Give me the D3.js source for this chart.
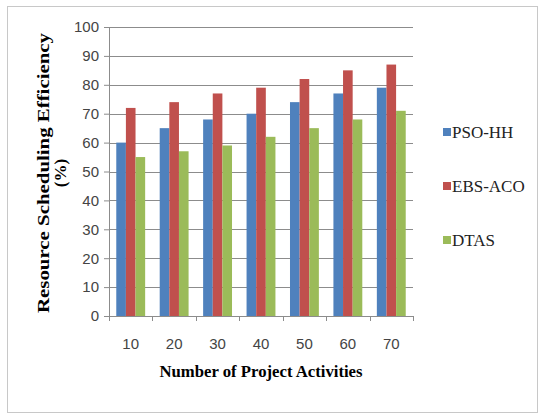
<!DOCTYPE html>
<html>
<head>
<meta charset="utf-8">
<script src="https://cdn.jsdelivr.net/npm/d3@7"></script>
<style>
body { margin: 0; background: #fff; }
svg { display: block; }
</style>
</head>
<body>
<svg id="chart" width="543" height="419"></svg>
<script>
var categories = ['10', '20', '30', '40', '50', '60', '70'];
var seriesNames = ['PSO-HH', 'EBS-ACO', 'DTAS'];
var psoHH = [60, 65, 68, 70, 74, 77, 79];
var ebsACO = [72, 74, 77, 79, 82, 85, 87];
var dtas = [55, 57, 59, 62, 65, 68, 71];
var yTicks = [0, 10, 20, 30, 40, 50, 60, 70, 80, 90, 100];
var colors = ['#4f81bd', '#c0504d', '#9bbb59'];

var svg = d3.select('#chart');
var margin = {left: 109, right: 130, top: 27, bottom: 103};
var w = 543 - margin.left - margin.right;
var h = 419 - margin.top - margin.bottom;

var series = [psoHH, ebsACO, dtas];

// frame
svg.append('rect')
	.attr('x', 7.5).attr('y', 6.5)
	.attr('width', 530).attr('height', 406)
	.attr('fill', '#fff').attr('stroke', '#c8c8c8');

var g = svg.append('g').attr('transform', 'translate(' + margin.left + ',' + margin.top + ')');

var x = d3.scaleBand().domain(categories).range([0, w]).paddingInner(0.335).paddingOuter(0.1675);
var xs = d3.scaleBand().domain(seriesNames).range([0, x.bandwidth()]);
var y = d3.scaleLinear().domain([0, 100]).range([h, 0]);

// gridlines
g.selectAll('.grid').data(yTicks.slice(1)).enter()
	.append('line')
	.attr('x1', 0).attr('x2', w)
	.attr('y1', function(d) { return Math.round(y(d)) + 0.5; })
	.attr('y2', function(d) { return Math.round(y(d)) + 0.5; })
	.attr('stroke', '#8c8c8c').attr('stroke-width', 1);

// bars
var groups = g.selectAll('.grp').data(categories).enter()
	.append('g')
	.attr('transform', function(d) { return 'translate(' + x(d) + ',0)'; });

groups.selectAll('rect')
	.data(function(d, i) {
		return seriesNames.map(function(s, j) { return {s: s, v: series[j][i], c: colors[j]}; });
	})
	.enter()
	.append('rect')
	.attr('x', function(d) { return xs(d.s); })
	.attr('width', xs.bandwidth())
	.attr('y', function(d) { return y(d.v); })
	.attr('height', function(d) { return h - y(d.v); })
	.attr('fill', function(d) { return d.c; });

// y axis
var yAxis = g.append('g')
	.call(d3.axisLeft(y).tickValues(yTicks).tickSize(5).tickPadding(5));
yAxis.select('.domain').attr('stroke', '#8c8c8c');
yAxis.selectAll('.tick line').attr('stroke', '#8c8c8c');
yAxis.selectAll('text')
	.style('font-family', '"Liberation Sans Narrow", "Liberation Sans", sans-serif')
	.style('font-size', '15px').attr('fill', '#444');

// x axis with ticks between categories
var xAxisG = g.append('g').attr('transform', 'translate(0,' + h + ')');
xAxisG.append('line').attr('x1', 0).attr('x2', w).attr('y1', 0.5).attr('y2', 0.5).attr('stroke', '#8c8c8c');
xAxisG.selectAll('.xt').data(d3.range(categories.length + 1)).enter()
	.append('line')
	.attr('x1', function(i) { return Math.round(i * w / categories.length) + 0.5; })
	.attr('x2', function(i) { return Math.round(i * w / categories.length) + 0.5; })
	.attr('y1', 0).attr('y2', 5)
	.attr('stroke', '#8c8c8c');
xAxisG.selectAll('.xl').data(categories).enter()
	.append('text')
	.attr('x', function(d) { return x(d) + x.bandwidth() / 2; })
	.attr('y', 33)
	.attr('text-anchor', 'middle')
	.style('font-family', '"Liberation Sans Narrow", "Liberation Sans", sans-serif')
	.style('font-size', '15px').attr('fill', '#444')
	.text(function(d) { return d; });

// axis titles
svg.append('text')
	.attr('x', 261).attr('y', 377)
	.attr('text-anchor', 'middle')
	.attr('textLength', 203).attr('lengthAdjust', 'spacingAndGlyphs')
	.style('font-family', '"Liberation Serif", serif')
	.style('font-weight', 'bold').style('font-size', '17px')
	.text('Number of Project Activities');

var yt = svg.append('text')
	.attr('transform', 'translate(49,173) rotate(-90)')
	.attr('text-anchor', 'middle')
	.style('font-family', '"Liberation Serif", serif')
	.style('font-weight', 'bold').style('font-size', '17px');
yt.append('tspan').attr('x', 0).attr('dy', 0)
	.attr('textLength', 280).attr('lengthAdjust', 'spacingAndGlyphs')
	.text('Resource Scheduling Efficiency');
yt.append('tspan').attr('x', 0).attr('dy', 17).text('(%)');

// legend
var legend = svg.selectAll('.leg').data(seriesNames).enter()
	.append('g')
	.attr('transform', function(d, i) { return 'translate(443,' + (132 + i * 54) + ')'; });
legend.append('rect')
	.attr('x', 0).attr('y', -4).attr('width', 8).attr('height', 8)
	.attr('fill', function(d, i) { return colors[i]; });
legend.append('text')
	.attr('x', 9).attr('y', 6)
	.style('font-family', '"Liberation Serif", serif')
	.style('font-size', '17px').attr('fill', '#222')
	.text(function(d) { return d; });
</script>
</body>
</html>
